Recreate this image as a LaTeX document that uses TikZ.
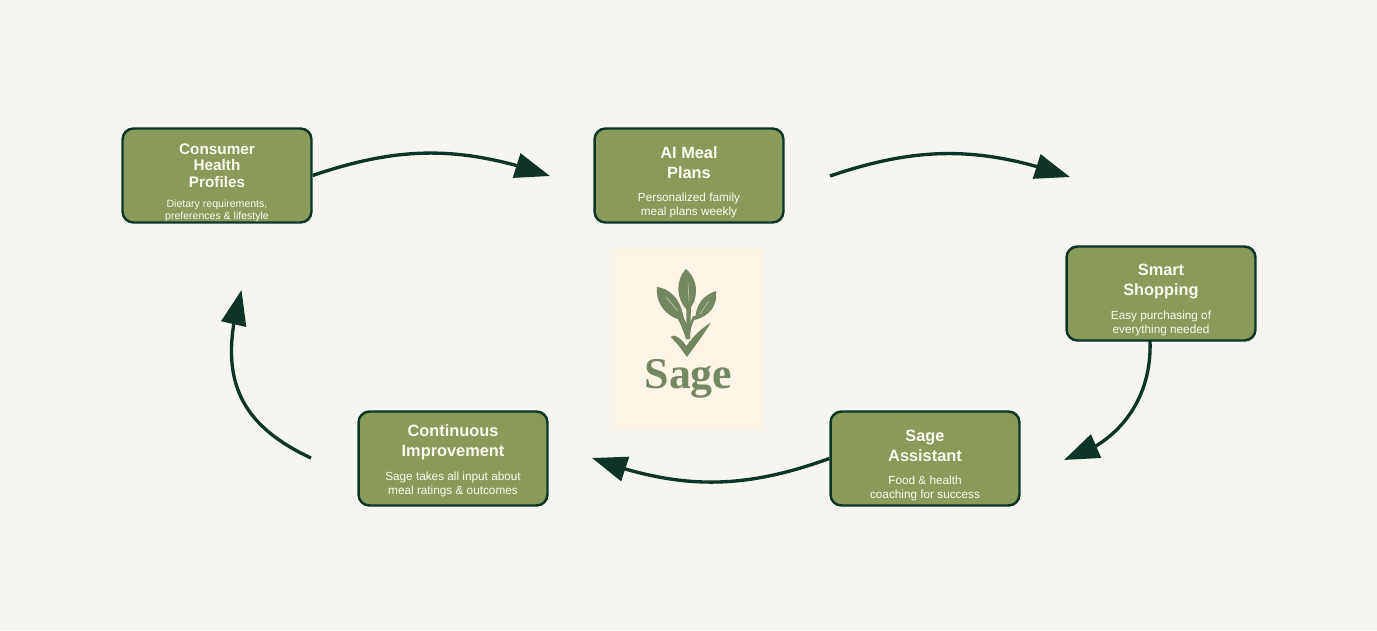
\documentclass[tikz,border=0pt]{standalone}
\usepackage{fontspec}
\setmainfont{Liberation Sans}
\newfontfamily\logofont{Liberation Serif}
\usetikzlibrary{arrows.meta,bending}
\definecolor{paper}{HTML}{F7F5F0}
\definecolor{moss}{HTML}{8A9A5B}
\definecolor{pine}{HTML}{0D3527}
\definecolor{cream}{HTML}{FFF5E6}
\definecolor{leaf}{HTML}{74885F}
\definecolor{vein}{HTML}{C9D3B5}
\definecolor{label}{HTML}{FBFBEF}
\tikzset{
  stagebox/.style={rectangle,rounded corners=2.2mm,draw=pine,fill=moss,line width=1.4pt,
    minimum width=3.78cm,minimum height=1.88cm,inner sep=0pt},
  titletext/.style={text=label,align=center,inner sep=0pt,font=\bfseries\fontsize{9.3}{11.3}\selectfont},
  subtext/.style={text=label,align=center,inner sep=0pt,font=\fontsize{6.7}{8}\selectfont},
  flow/.style={draw=pine,line width=1.9pt,-{Triangle[length=7mm,width=5mm,flex]}},
}
\begin{document}
\begin{tikzpicture}[x=0.02cm,y=-0.02cm]
  \useasboundingbox[fill=paper] (0,0) rectangle (1377,630);

  % stages
  \node[stagebox] (consumer) at (217,175.5) {};
  \node[stagebox] (meal) at (689,175.5) {};
  \node[stagebox] (shopping) at (1161,293.5) {};
  \node[stagebox] (assistant) at (925,458.5) {};
  \node[stagebox] (improve) at (453,458.5) {};

  \node[titletext,font=\bfseries\fontsize{8.7}{9.4}\selectfont] (consumertitle) at (217,165.5) {Consumer\\Health\\Profiles};
  \node[subtext,font=\fontsize{6}{6.8}\selectfont] (consumersub) at (217,211) {Dietary requirements,\\preferences \& lifestyle};
  \node[titletext] (mealtitle) at (689,163) {AI Meal\\Plans};
  \node[subtext] (mealsub) at (689,205.5) {Personalized family\\meal plans weekly};
  \node[titletext] (shoppingtitle) at (1161,281.5) {Smart\\Shopping};
  \node[subtext] (shoppingsub) at (1161,323) {Easy purchasing of\\everything needed};
  \node[titletext] (assistanttitle) at (925,446) {Sage\\Assistant};
  \node[subtext] (assistantsub) at (925,488.5) {Food \& health\\coaching for success};
  \node[titletext] (improvetitle) at (453,442) {Continuous\\Improvement};
  \node[subtext] (improvesub) at (453,484) {Sage takes all input about\\meal ratings \& outcomes};

  % free ends of the arrows
  \coordinate (a1) at (550,176);
  \coordinate (b0) at (830,176);
  \coordinate (b1) at (1070,177);
  \coordinate (c0) at (1150,341);
  \coordinate (c1) at (1064,460);
  \coordinate (d1) at (592,458);
  \coordinate (e0) at (311,458);
  \coordinate (e1) at (241.5,290);

  \path[flow] (consumer.east) to[bend left=19] (a1);
  \path[flow] (b0) to[bend left=19] (b1);
  \path[flow] (c0) to[bend left=38] (c1);
  \path[flow] (assistant.west) to[bend left=20] (d1);
  \path[flow] (e0) to[out=155,in=-106,looseness=1.2] (e1);

  % logo
  \fill[cream] (615,249) rectangle (763,428);
  \begin{scope}[fill=leaf]
    \fill (686,269) .. controls (675,280) and (676,300) .. (688,311)
      .. controls (699,300) and (699,280) .. (686,269) -- cycle;
    \fill (657,287) .. controls (668,288) and (682,298) .. (684,321)
      .. controls (672,319) and (655,308) .. (657,287) -- cycle;
    \fill (716,291) .. controls (704,295) and (696,303) .. (695,320)
      .. controls (709,316) and (718,306) .. (716,291) -- cycle;
    \fill (686,306) -- (691,306) -- (690.5,325) -- (690,339) -- (686,339) .. controls (686,328) and (687,318) .. (686,306) -- cycle;
    \fill (683,316) .. controls (686,322) and (689,330) .. (690,338) -- (686,339) .. controls (684,332) and (681,325) .. (678,319) -- cycle;
    \fill (697,316) .. controls (692,322) and (690,330) .. (690,338) -- (687,335) .. controls (689,328) and (690,322) .. (693,316) -- cycle;
    \fill (670.5,337) -- (674,335.5) .. controls (679,337) and (683,341) .. (686.5,346)
      .. controls (693,336) and (702,328) .. (711,322.5)
      .. controls (704,334) and (695,346) .. (687,357)
      .. controls (682,350) and (677,343) .. (670.5,337) -- cycle;
  \end{scope}
  \draw[vein,line width=0.3pt] (688,283) -- (689,301);
  \draw[vein,line width=0.3pt] (666,297) -- (678,311);
  \draw[vein,line width=0.3pt] (709,301) -- (700,314);
  \node[text=leaf,inner sep=0pt,font=\logofont\bfseries\fontsize{25}{25}\selectfont] (logotext) at (688.5,379) {Sage};
\end{tikzpicture}
\end{document}
